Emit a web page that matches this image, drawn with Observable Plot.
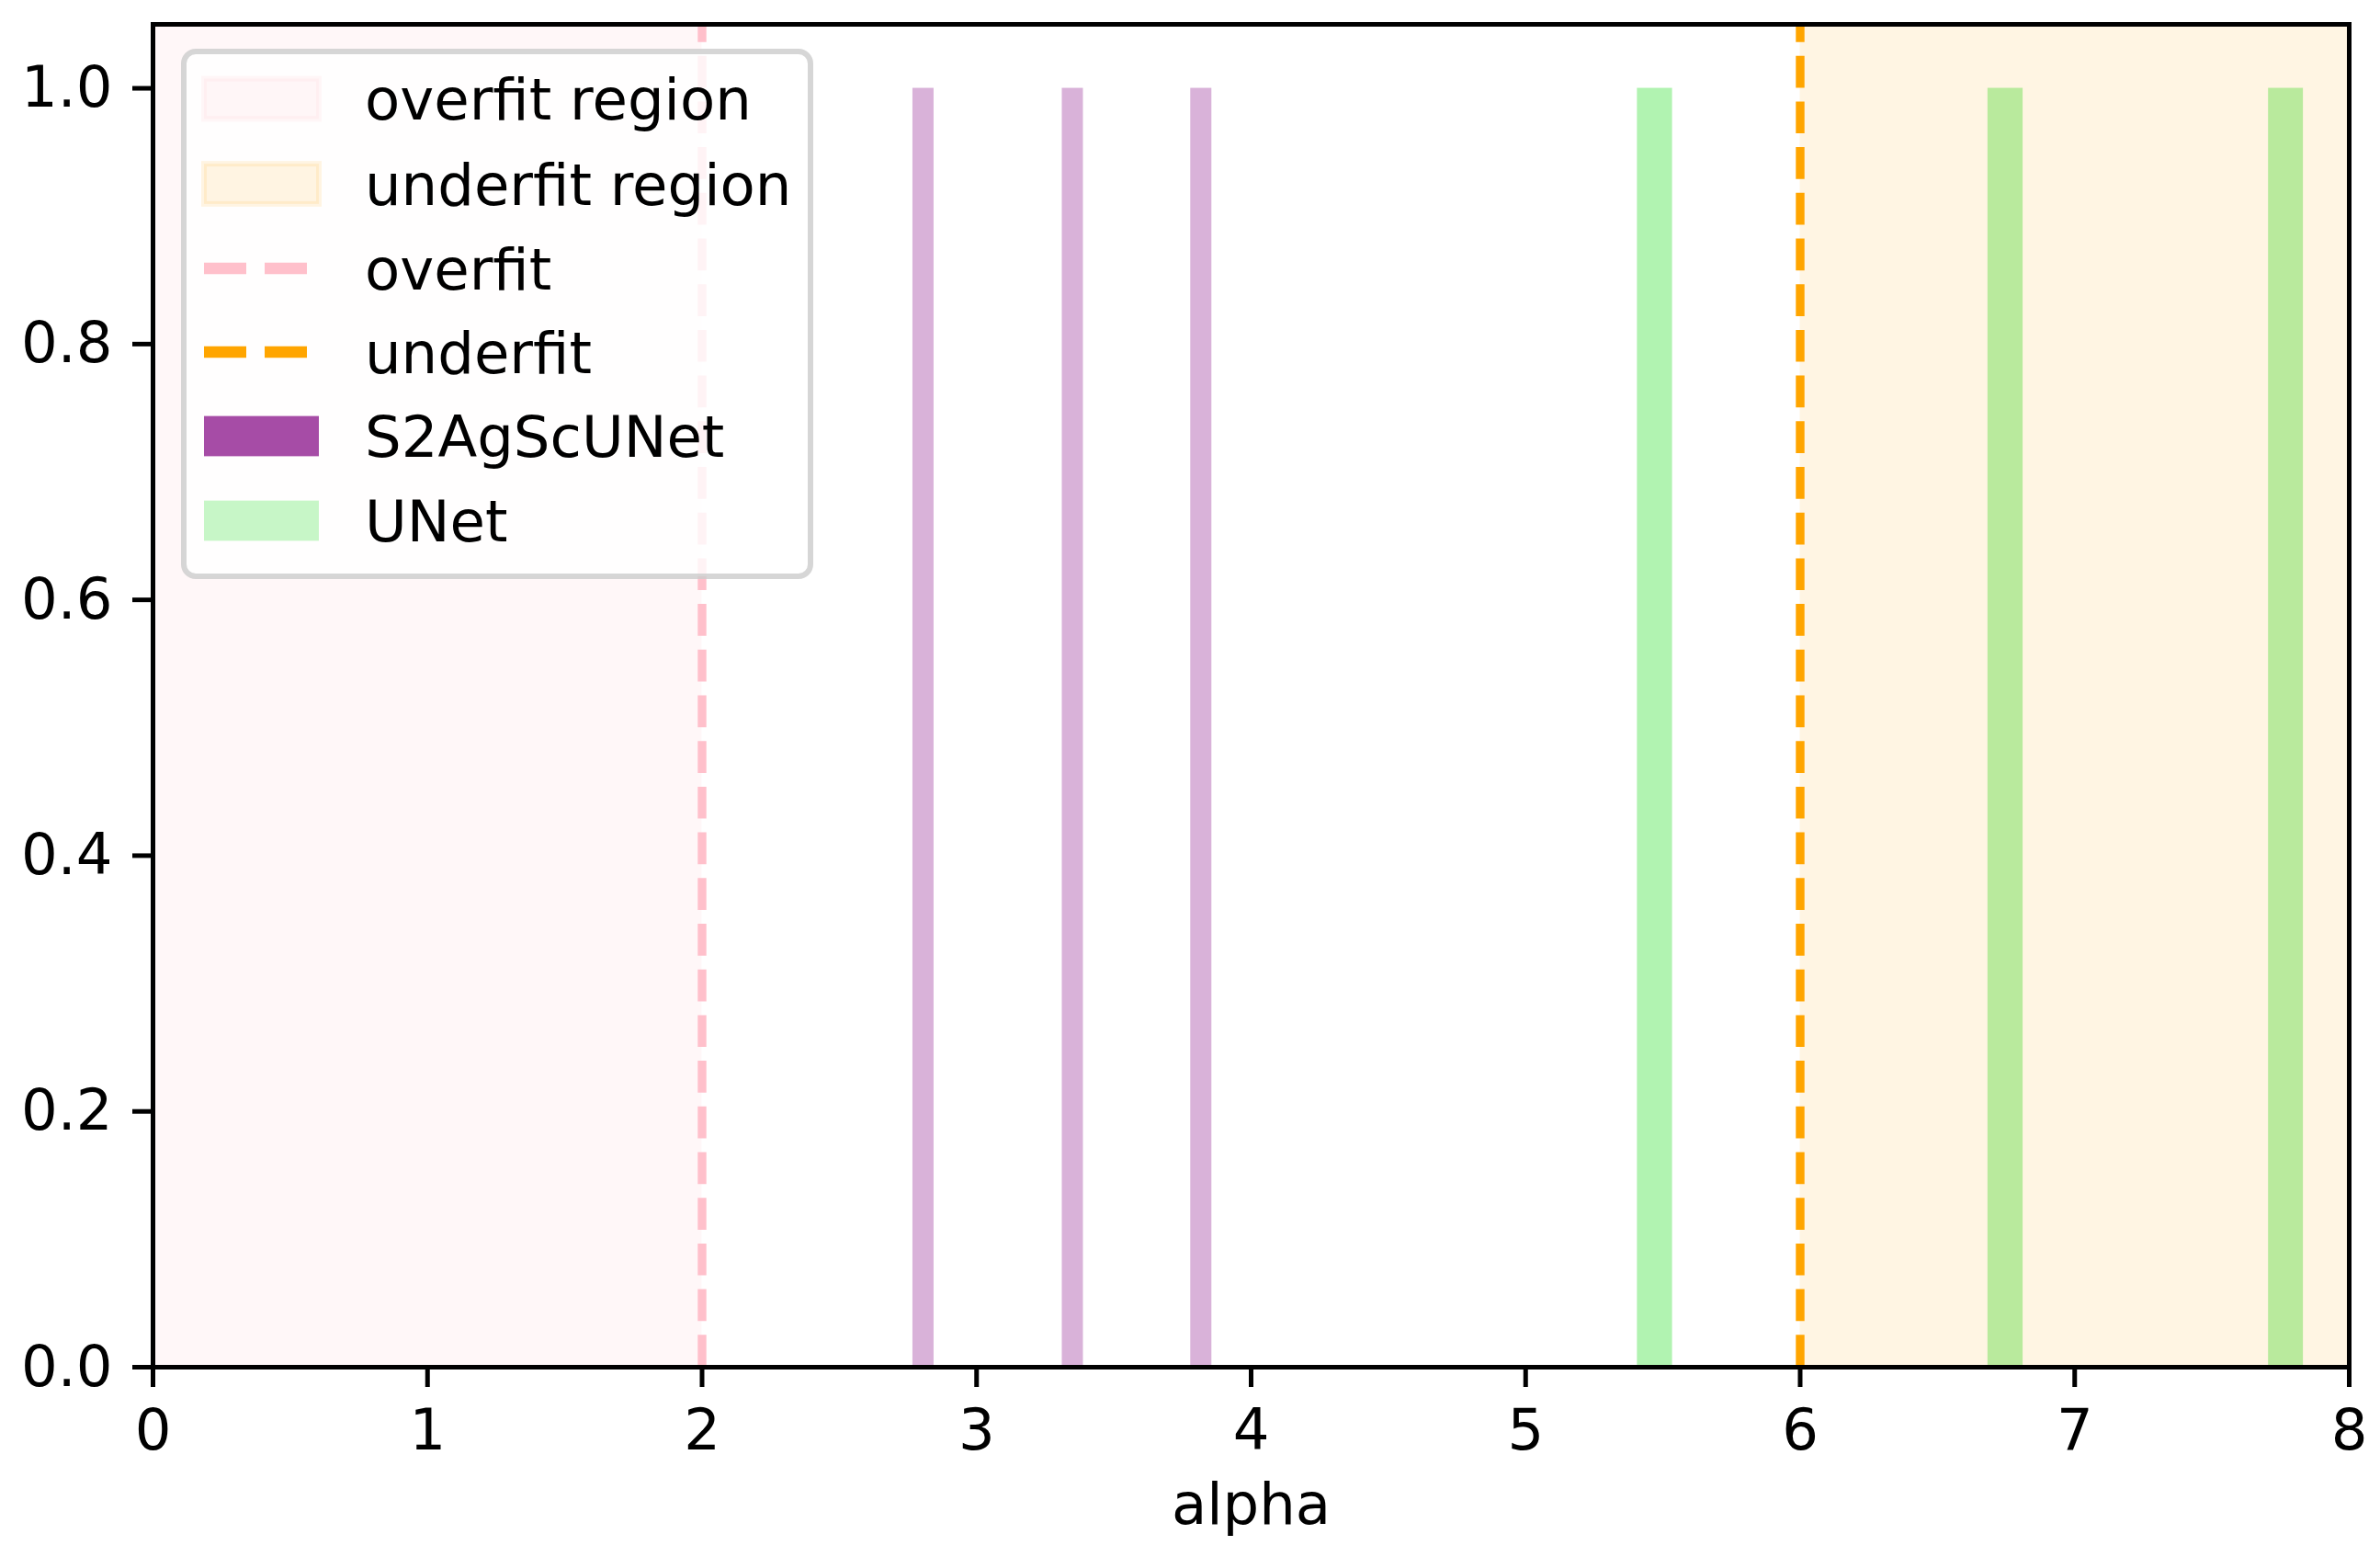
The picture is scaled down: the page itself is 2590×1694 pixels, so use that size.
<!DOCTYPE html>
<html><head><meta charset="utf-8">
<script src="https://cdn.jsdelivr.net/npm/d3@7"></script>
<script src="https://cdn.jsdelivr.net/npm/@observablehq/plot@0.6"></script>
<style>
html,body{margin:0;padding:0;background:#fff;}
#chart{width:2590px;height:1694px;}
</style></head><body><div id="chart"></div>
<script>
// ---- data ----
const xTicks = [0, 1, 2, 3, 4, 5, 6, 7, 8];
const yTicks = [0, 0.2, 0.4, 0.6, 0.8, 1.0];
const xLabel = "alpha";
const alphaMin = 0, alphaMax = 8;
const countMax = 1.05;
// histogram bins (bin start / end in alpha, count)
const s2Start = [2.768, 3.312, 3.780];
const s2End   = [2.845, 3.389, 3.857];
const s2Count = [1, 1, 1];
const unetStart = [5.407, 6.684, 7.706];
const unetEnd   = [5.535, 6.812, 7.833];
const unetCount = [1, 1, 1];
const overfitAlpha = 2;
const underfitAlpha = 6;
const legendLabels = ["overfit region", "underfit region", "overfit", "underfit", "S2AgScUNet", "UNet"];

// ---- tables built from the arrays ----
const s2Bins = s2Start.map((s, i) => ({start: s, end: s2End[i], count: s2Count[i]}));
const unetBins = unetStart.map((s, i) => ({start: s, end: unetEnd[i], count: unetCount[i]}));
const overRegion = [{start: alphaMin, end: overfitAlpha}];
const underRegion = [{start: underfitAlpha, end: alphaMax}];

const FONT = "DejaVu Sans";
const FS = 62.5;

const chart = Plot.plot({
  width: 2590,
  height: 1694,
  marginLeft: 166,
  marginRight: 34,
  marginTop: 26,
  marginBottom: 207,
  style: {fontFamily: FONT, fontSize: FS + "px", color: "black", background: "white"},
  x: {domain: [alphaMin, alphaMax]},
  y: {domain: [0, countMax]},
  marks: [
    Plot.rect(s2Bins, {x1: "start", x2: "end", y1: 0, y2: "count", fill: "purple", fillOpacity: 0.3}),
    Plot.rect(unetBins, {x1: "start", x2: "end", y1: 0, y2: "count", fill: "lightgreen", fillOpacity: 0.7}),
    Plot.rect(overRegion, {x1: "start", x2: "end", fill: "pink", fillOpacity: 0.13}),
    Plot.rect(underRegion, {x1: "start", x2: "end", fill: "orange", fillOpacity: 0.11}),
    Plot.ruleX([overfitAlpha], {y1: 0, y2: countMax, stroke: "pink", strokeWidth: 9.4, strokeDasharray: "34.7,15"}),
    Plot.ruleX([underfitAlpha], {y1: 0, y2: countMax, stroke: "orange", strokeWidth: 9.4, strokeDasharray: "34.7,15"}),
    Plot.axisX({ticks: xTicks, tickFormat: d => String(d), tickSize: 22, tickPadding: 23, strokeWidth: 5, fontSize: FS, label: null}),
    Plot.axisY({ticks: yTicks, tickFormat: d3.format(".1f"), tickSize: 22, tickPadding: 22, strokeWidth: 5, fontSize: FS, label: null}),
    Plot.text([xLabel], {text: d => d, frameAnchor: "bottom", lineAnchor: "top", dy: 126, fontSize: FS}),
    Plot.frame({stroke: "black", strokeWidth: 5})
  ]
});
document.getElementById("chart").appendChild(chart);

// ---- legend drawn inside the plot (upper left) ----
const svg = d3.select(chart);
const lg = svg.append("g").attr("font-family", FONT).attr("font-size", FS).attr("text-anchor", "start");
lg.append("rect").attr("x", 200).attr("y", 56).attr("width", 682).attr("height", 571).attr("rx", 13)
  .attr("fill", "white").attr("fill-opacity", 0.8).attr("stroke", "#cccccc").attr("stroke-opacity", 0.8).attr("stroke-width", 6);
const rowY = [107.5, 200, 292, 383, 474.5, 566.5];
const hx = 222, hw = 125, hh = 43.75;
const handles = [
  {type: "patch", fill: "pink", op: 0.13, stroke: true},
  {type: "patch", fill: "orange", op: 0.11, stroke: true},
  {type: "line", color: "pink"},
  {type: "line", color: "orange"},
  {type: "patch", fill: "purple", op: 0.7, stroke: false},
  {type: "patch", fill: "lightgreen", op: 0.5, stroke: false}
];
handles.forEach((h, i) => {
  const cy = rowY[i];
  if (h.type === "patch") {
    const r = lg.append("rect").attr("x", hx).attr("y", cy - hh / 2).attr("width", hw).attr("height", hh)
      .attr("fill", h.fill).attr("fill-opacity", h.op);
    if (h.stroke) r.attr("stroke", h.fill).attr("stroke-opacity", h.op).attr("stroke-width", 6);
  } else {
    lg.append("line").attr("x1", hx).attr("x2", hx + hw).attr("y1", cy).attr("y2", cy)
      .attr("stroke", h.color).attr("stroke-width", 12.5).attr("stroke-dasharray", "46,20");
  }
  lg.append("text").attr("x", 397).attr("y", cy + 22.5).attr("fill", "black").attr("text-anchor", "start").text(legendLabels[i]);
});
</script>
</body></html>
